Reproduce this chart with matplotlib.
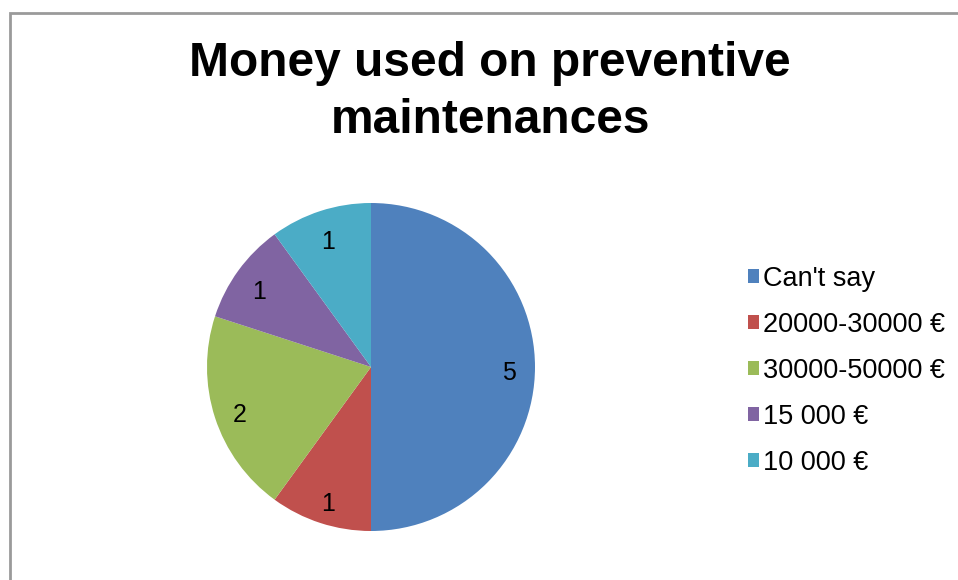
import matplotlib.pyplot as plt
from matplotlib.patches import Rectangle, Patch

plt.rcParams['font.family'] = ['Liberation Sans', 'DejaVu Sans']

# Survey answers: money spent on preventive maintenance
categories = ["Can't say", "20000-30000 €", "30000-50000 €", "15 000 €", "10 000 €"]
counts = [5, 1, 2, 1, 1]
colors = ['#4F81BD', '#C0504D', '#9BBB59', '#8064A2', '#4BACC6']

W, H = 958, 580
fig = plt.figure(figsize=(W / 100, H / 100), dpi=100)

# chart area outline
fig.patches.append(Rectangle((9.5 / W, -0.05), 1.1, 1 - 12.5 / H + 0.05,
                             transform=fig.transFigure, fill=False,
                             edgecolor='#9a9a9a', linewidth=2))

cx, cy, r = 371, 367, 164
ax = fig.add_axes([(cx - r) / W, (H - cy - r) / H, 2 * r / W, 2 * r / H])
wedges, texts = ax.pie(counts, colors=colors, startangle=90, counterclock=False,
                       labels=[str(c) for c in counts], labeldistance=0.84,
                       wedgeprops=dict(linewidth=0), radius=1,
                       textprops=dict(fontsize=18))
for t in texts:
    t.set_horizontalalignment('center')
    t.set_verticalalignment('center_baseline')
    x, y = t.get_position()
    t.set_position((x, y - 0.02))
ax.set_xlim(-1, 1)
ax.set_ylim(-1, 1)
ax.set_aspect('equal')

fig.text(490 / W, 1 - 92 / H, 'Money used on preventive\nmaintenances',
         ha='center', va='center', fontsize=34.5, fontweight='bold', linespacing=1.32)

handles = [Patch(facecolor=c, edgecolor='none') for c in colors]
fig.legend(handles, categories, loc='center left',
           bbox_to_anchor=(748 / W, 1 - 371 / H), frameon=False,
           fontsize=19.5, handlelength=0.42, handleheight=0.42,
           handletextpad=0.15, labelspacing=0.74, borderaxespad=0,
           borderpad=0)

fig.savefig('out.png', dpi=100)
